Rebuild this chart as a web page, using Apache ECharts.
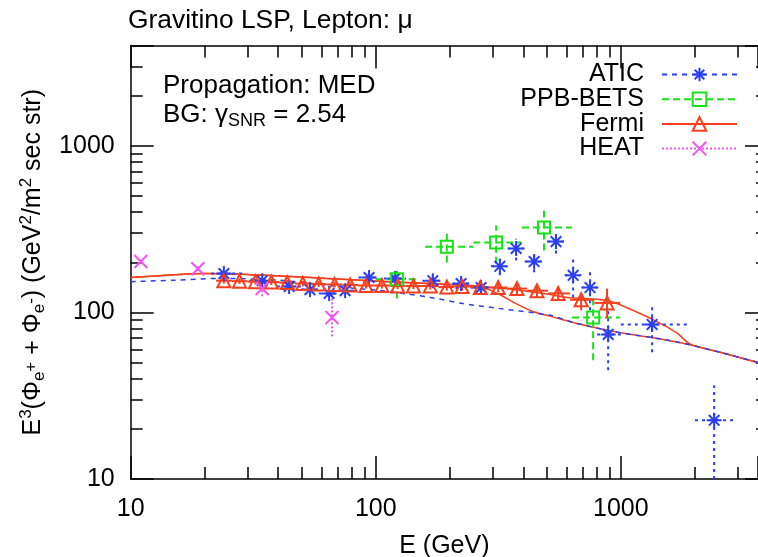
<!DOCTYPE html>
<html><head><meta charset="utf-8">
<script src="https://cdn.jsdelivr.net/npm/echarts@6/dist/echarts.min.js"></script>
<style>html,body{margin:0;padding:0;background:#fff}#c{width:758px;height:557px}</style>
</head><body><div id="c"></div>
<script>
// ---- tick labels ----
const xTickValues = [10, 100, 1000];
const xTickLabels = ['10', '100', '1000'];
const yTickValues = [10, 100, 1000];
const yTickLabels = ['10', '100', '1000'];

// ---- ATIC ----
const aticE   = [24.0, 34.4, 44.3, 53.9, 64.5, 75.0, 93.9, 120, 171, 223, 269, 321, 374, 443, 544, 639, 749, 888, 1342, 2404];
const aticV   = [171, 155, 143, 137, 130, 135, 162, 160, 155, 149, 141, 189, 242, 202, 266, 167, 141, 73.8, 84.7, 22.5];
const aticELo = [21.3, 30.5, 39.5, 49.5, 58.5, 70, 85, 108, 155, 205, 243, 295, 345, 405, 500, 590, 690, 800, 1000, 2009];
const aticEHi = [28.5, 38.5, 49.5, 58.5, 70, 82, 103, 133, 188, 243, 295, 345, 405, 485, 590, 690, 810, 1000, 1920, 2956];
const aticVLo = [164, 149, 137, 131, 124, 128, 153, 150, 144, 137, 128, 167, 205, 174, 226, 123, 103, 45, 57.6, 5];
const aticVHi = [178, 161, 149, 143, 136, 142, 171, 170, 166, 161, 154, 210, 277, 229, 301, 210, 183, 103, 113, 36.5];

// ---- PPB-BETS ----
const ppbE   = [122, 195, 310, 486, 771];
const ppbV   = [158, 248, 263, 323, 93.3];
const ppbELo = [100, 159, 250, 395, 632];
const ppbEHi = [150, 250, 395, 632, 994];
const ppbVLo = [121, 199, 196, 235, 51.6];
const ppbVHi = [178, 297, 332, 408, 123];

// ---- Fermi ----
const fermiE   = [24.0, 27.8, 32.3, 37.5, 43.5, 50.4, 58.5, 67.9, 78.7, 91.3, 105.9, 122.9, 142.5, 167, 195, 225, 267, 316, 377, 455, 555, 689, 879];
const fermiV   = [155, 154, 153, 152, 151, 149, 148, 147, 146, 145, 145, 144, 144, 144, 142, 143, 141, 141, 139, 135, 130, 119, 114];
const fermiELo = [22.3, 25.9, 30.0, 34.8, 40.4, 46.8, 54.4, 63.0, 73.1, 84.8, 98.3, 114.1, 132.3, 154, 180, 209, 245, 290, 345, 415, 505, 621, 780];
const fermiEHi = [25.9, 30.0, 34.8, 40.4, 46.8, 54.4, 63.0, 73.1, 84.8, 98.3, 114.1, 132.3, 154, 180, 209, 245, 290, 345, 415, 505, 621, 780, 994];
const fermiVLo = [149, 148, 147, 146, 145, 143, 142, 141, 140, 139, 139, 138, 138, 137, 135, 135, 133, 132, 129, 124, 118, 103, 92];
const fermiVHi = [161, 160, 159, 158, 157, 155, 154, 153, 152, 151, 151, 150, 150, 151, 149, 151, 149, 150, 149, 146, 142, 126, 139];

// ---- HEAT ----
const heatE   = [11.0, 18.8, 34.4, 66.3];
const heatV   = [202, 183, 139, 93.3];
const heatELo = [11.0, 18.8, 34.4, 66.3];
const heatEHi = [11.0, 18.8, 34.4, 66.3];
const heatVLo = [196, 177, 125, 71.8];
const heatVHi = [208, 189, 150, 130];

// ---- model curves ----
const modelAE = [10, 15, 20, 30, 50, 80, 120, 200, 300, 400, 500, 604, 879, 1120, 1450, 1700, 1920, 2540, 3630];
const modelAV = [162, 168, 171, 169, 163, 157, 152, 147, 141, 135, 129, 123, 118, 103, 86, 75, 64.5, 57.6, 50.1];
const modelBE = [10, 15, 20, 30, 50, 80, 120, 200, 267, 320, 377, 440, 514, 639, 966, 1318, 1795, 2541, 3630];
const modelBV = [162, 168, 171, 169, 163, 157, 152, 147, 143, 128, 112, 101, 95, 87, 76, 70.9, 65.3, 57.6, 50.1];
const bgE = [10, 15, 23, 40, 60, 80, 112, 129, 167, 227, 313, 514, 639, 966, 1318, 1795, 2541, 3630];
const bgV = [153, 156, 160, 156, 147, 140, 134, 130, 123, 113, 106, 96, 87, 76, 70.9, 65.3, 57.6, 50.1];

const C_ATIC = '#2b3ff2', C_PPB = '#18e018', C_FERMI = '#f4401e', C_HEAT = '#f055f0';
const FONT = '"Liberation Sans", Arial, Helvetica, sans-serif';

const SYM_ASTER = 'path://M0,-10L0,10M-10,0L10,0M-7.07,-7.07L7.07,7.07M-7.07,7.07L7.07,-7.07';
const SYM_SQUARE = 'path://M-10,-10L10,-10L10,10L-10,10Z';
const SYM_TRI = 'path://M0,-10L10,7.3L-10,7.3Z';
const SYM_X = 'path://M-10,-10L10,10M-10,10L10,-10';

function zip2(a, b) { return a.map((v, i) => [v, b[i]]); }
function errRows(E, V, El, Eh, Vl, Vh) { return E.map((e, i) => [e, V[i], El[i], Eh[i], Vl[i], Vh[i]]); }

function errRender(color, dash, width) {
  return function (params, api) {
    const cs = params.coordSys;
    const cl = (y) => Math.max(cs.y, Math.min(cs.y + cs.height, y));
    const clx = (x) => Math.max(cs.x, Math.min(cs.x + cs.width, x));
    const c = api.coord([api.value(0), api.value(1)]);
    const xl = api.coord([api.value(2), api.value(1)]);
    const xh = api.coord([api.value(3), api.value(1)]);
    const yl = api.coord([api.value(0), api.value(4)]);
    const yh = api.coord([api.value(0), api.value(5)]);
    const st = { stroke: color, lineWidth: width, lineDash: dash, fill: null };
    return { type: 'group', children: [
      { type: 'line', shape: { x1: clx(xl[0]), y1: c[1], x2: clx(xh[0]), y2: c[1] }, style: st },
      { type: 'line', shape: { x1: c[0], y1: cl(yl[1]), x2: c[0], y2: cl(yh[1]) }, style: st }
    ]};
  };
}

function dataSeries(name, E, V, sym, size, color) {
  return { name, type: 'line', data: zip2(E, V), symbol: sym, symbolSize: size, showAllSymbol: true,
    lineStyle: { opacity: 0, width: 0 }, itemStyle: { color: 'none', borderColor: color, borderWidth: 2 },
    z: 10, silent: true, animation: false, emphasis: { disabled: true } };
}
function errSeries(rows, color, dash, width) {
  return { type: 'custom', data: rows, renderItem: errRender(color, dash, width), encode: { x: 0, y: 1 },
    z: 6, silent: true, animation: false };
}
function curveSeries(E, V, color, type, z) {
  return { type: 'line', data: zip2(E, V), showSymbol: false, smooth: 0.3,
    lineStyle: { color, width: 1.5, type }, z, silent: true, animation: false };
}

const axisCommon = {
  type: 'log', logBase: 10, min: 10,
  axisLine: { lineStyle: { color: '#000', width: 1.5 } },
  axisTick: { inside: true, length: 23, lineStyle: { color: '#000', width: 1.5 } },
  minorTick: { show: true, splitNumber: 9, length: 12, lineStyle: { color: '#000', width: 1.5 } },
  splitLine: { show: false }, minorSplitLine: { show: false }
};
function fmt(vals, labels) { return function (v) { const i = vals.findIndex(t => Math.abs(t - v) < 1e-6 * t); return i >= 0 ? labels[i] : ''; }; }

const chart = echarts.init(document.getElementById('c'), null, { renderer: 'canvas' });
chart.setOption({
  animation: false,
  backgroundColor: '#fff',
  textStyle: { fontFamily: FONT },
  grid: { left: 130.7, right: 0, top: 45.5, bottom: 78, containLabel: false, outerBoundsMode: 'none' },
  xAxis: [
    Object.assign({}, axisCommon, { max: 3630, position: 'bottom',
      axisLabel: { margin: 18, fontSize: 25, color: '#000', fontFamily: FONT, formatter: fmt(xTickValues, xTickLabels) },
      name: 'E (GeV)', nameLocation: 'middle', nameGap: 55,
      nameTextStyle: { fontSize: 25, color: '#000', fontFamily: FONT } }),
    Object.assign({}, axisCommon, { max: 3630, position: 'top', axisLabel: { show: false } })
  ],
  yAxis: [
    Object.assign({}, axisCommon, { max: 4000, position: 'left',
      axisLabel: { margin: 16, fontSize: 25, color: '#000', fontFamily: FONT, formatter: fmt(yTickValues, yTickLabels) },
      name: '{b|E}{sup|3}{b|(Φ}{sub|e}{sp|+}{b| + Φ}{sub|e}{sp|-}{b|) (GeV}{sup|2}{b|/m}{sup|2}{b| sec str)}',
      nameLocation: 'middle', nameGap: 82, nameRotate: 90,
      nameTextStyle: { color: '#000', fontFamily: FONT, fontSize: 25,
        rich: {
          b: { fontSize: 25, fontFamily: FONT, color: '#000', lineHeight: 30, verticalAlign: 'middle' },
          sup: { fontSize: 17, fontFamily: FONT, color: '#000', lineHeight: 30, verticalAlign: 'top' },
          sub: { fontSize: 17, fontFamily: FONT, color: '#000', lineHeight: 30, verticalAlign: 'bottom' },
          sp: { fontSize: 17, fontFamily: FONT, color: '#000', lineHeight: 30, verticalAlign: 'middle', padding: [0, 0, 4, 0] }
        } } }),
    Object.assign({}, axisCommon, { max: 4000, position: 'right', axisLabel: { show: false },
      axisLine: { show: false },
      axisTick: { inside: true, length: 13, lineStyle: { color: '#000', width: 1.5 } },
      minorTick: { show: true, splitNumber: 9, length: 2, lineStyle: { color: '#000', width: 1.5 } } })
  ],
  legend: {
    orient: 'vertical', align: 'right', right: 15, top: 57,
    itemWidth: 75, itemHeight: 17, itemGap: -0.3,
    textStyle: { fontSize: 25, color: '#000', fontFamily: FONT, lineHeight: 20, padding: [0, 13, 0, 0] },
    selectedMode: false,
    data: [
      { name: 'ATIC', itemStyle: { color: 'none', borderColor: C_ATIC, borderWidth: 2 }, lineStyle: { color: C_ATIC, width: 2, type: [5, 5], opacity: 1 } },
      { name: 'PPB-BETS', itemStyle: { color: 'none', borderColor: C_PPB, borderWidth: 2 }, lineStyle: { color: C_PPB, width: 2, type: [7, 4], opacity: 1 } },
      { name: 'Fermi', itemStyle: { color: 'none', borderColor: C_FERMI, borderWidth: 2 }, lineStyle: { color: C_FERMI, width: 2, type: 'solid', opacity: 1 } },
      { name: 'HEAT', itemStyle: { color: 'none', borderColor: C_HEAT, borderWidth: 2 }, lineStyle: { color: C_HEAT, width: 2, type: [2, 2], opacity: 1 } }
    ]
  },
  graphic: [
    { type: 'text', left: 128, top: 8, style: { text: 'Gravitino LSP, Lepton: μ', font: '26.4px ' + FONT, fill: '#000' } },
    { type: 'text', left: 163, top: 73, style: { text: 'Propagation: MED', font: '26px ' + FONT, fill: '#000' } },
    { type: 'text', left: 163, top: 102, style: { text: '{b|BG: γ}{sub|SNR}{b| = 2.54}', fill: '#000',
        rich: { b: { fontSize: 26, fontFamily: FONT, lineHeight: 30, verticalAlign: 'middle' },
                sub: { fontSize: 18, fontFamily: FONT, lineHeight: 30, verticalAlign: 'bottom' } } } }
  ],
  series: [
    curveSeries(modelAE, modelAV, C_FERMI, 'solid', 3),
    curveSeries(modelBE, modelBV, C_FERMI, 'solid', 3),
    curveSeries(bgE, bgV, C_ATIC, [5, 5], 4),
    errSeries(errRows(aticE, aticV, aticELo, aticEHi, aticVLo, aticVHi), C_ATIC, [3, 4], 2),
    errSeries(errRows(ppbE, ppbV, ppbELo, ppbEHi, ppbVLo, ppbVHi), C_PPB, [7, 4], 2),
    errSeries(errRows(fermiE, fermiV, fermiELo, fermiEHi, fermiVLo, fermiVHi), C_FERMI, null, 2),
    errSeries(errRows(heatE, heatV, heatELo, heatEHi, heatVLo, heatVHi), C_HEAT, [2, 2], 2),
    dataSeries('ATIC', aticE, aticV, SYM_ASTER, 15, C_ATIC),
    dataSeries('PPB-BETS', ppbE, ppbV, SYM_SQUARE, 12, C_PPB),
    dataSeries('Fermi', fermiE, fermiV, SYM_TRI, 13, C_FERMI),
    dataSeries('HEAT', heatE, heatV, SYM_X, 13, C_HEAT)
  ]
});
</script></body></html>
